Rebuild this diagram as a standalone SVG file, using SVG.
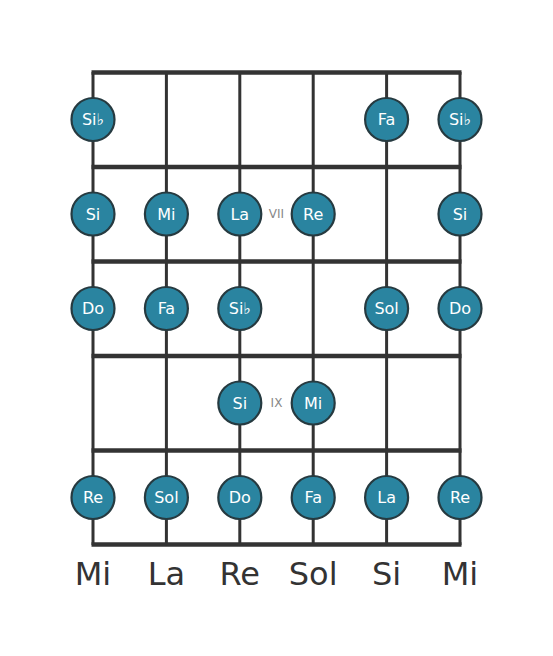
<svg xmlns="http://www.w3.org/2000/svg" width="553" height="656" viewBox="0 0 553 656">
<style>
.fret{stroke:#333;stroke-width:4.5;stroke-linecap:butt}
.str{stroke:#333;stroke-width:3}
.note circle{fill:#2a84a0;stroke:#263a40;stroke-width:2.2}
.note text{fill:#fff;font-family:"DejaVu Sans",sans-serif;font-size:16px;text-anchor:middle;dominant-baseline:central}
.fn{fill:#888;font-family:"DejaVu Sans",sans-serif;font-size:12px;text-anchor:middle;dominant-baseline:central}
.sn{fill:#333;font-family:"DejaVu Sans",sans-serif;font-size:32px;text-anchor:middle}
</style>
<rect width="553" height="656" fill="#fff"/>
<g id="connectors">
<line class="str" x1="93" y1="72" x2="93" y2="545"/>
<line class="str" x1="166.4" y1="72" x2="166.4" y2="545"/>
<line class="str" x1="239.8" y1="72" x2="239.8" y2="545"/>
<line class="str" x1="313.2" y1="72" x2="313.2" y2="545"/>
<line class="str" x1="386.6" y1="72" x2="386.6" y2="545"/>
<line class="str" x1="460" y1="72" x2="460" y2="545"/>
<line class="fret" x1="91.5" y1="72.5" x2="461.5" y2="72.5"/>
<line class="fret" x1="91.5" y1="167" x2="461.5" y2="167"/>
<line class="fret" x1="91.5" y1="261.5" x2="461.5" y2="261.5"/>
<line class="fret" x1="91.5" y1="356" x2="461.5" y2="356"/>
<line class="fret" x1="91.5" y1="450.5" x2="461.5" y2="450.5"/>
<line class="fret" x1="91.5" y1="544.5" x2="461.5" y2="544.5"/>
</g>
<g id="fret-labels">
<text class="fn" x="276.5" y="214">VII</text>
<text class="fn" x="276.5" y="403">IX</text>
</g>
<g id="n1" class="note"><circle cx="93" cy="119.5" r="21.5"/><text x="93" y="119.5">Si♭</text></g>
<g id="n2" class="note"><circle cx="386.6" cy="119.5" r="21.5"/><text x="386.6" y="119.5">Fa</text></g>
<g id="n3" class="note"><circle cx="460" cy="119.5" r="21.5"/><text x="460" y="119.5">Si♭</text></g>
<g id="n4" class="note"><circle cx="93" cy="214" r="21.5"/><text x="93" y="214">Si</text></g>
<g id="n5" class="note"><circle cx="166.4" cy="214" r="21.5"/><text x="166.4" y="214">Mi</text></g>
<g id="n6" class="note"><circle cx="239.8" cy="214" r="21.5"/><text x="239.8" y="214">La</text></g>
<g id="n7" class="note"><circle cx="313.2" cy="214" r="21.5"/><text x="313.2" y="214">Re</text></g>
<g id="n8" class="note"><circle cx="460" cy="214" r="21.5"/><text x="460" y="214">Si</text></g>
<g id="n9" class="note"><circle cx="93" cy="308.5" r="21.5"/><text x="93" y="308.5">Do</text></g>
<g id="n10" class="note"><circle cx="166.4" cy="308.5" r="21.5"/><text x="166.4" y="308.5">Fa</text></g>
<g id="n11" class="note"><circle cx="239.8" cy="308.5" r="21.5"/><text x="239.8" y="308.5">Si♭</text></g>
<g id="n12" class="note"><circle cx="386.6" cy="308.5" r="21.5"/><text x="386.6" y="308.5">Sol</text></g>
<g id="n13" class="note"><circle cx="460" cy="308.5" r="21.5"/><text x="460" y="308.5">Do</text></g>
<g id="n14" class="note"><circle cx="239.8" cy="403" r="21.5"/><text x="239.8" y="403">Si</text></g>
<g id="n15" class="note"><circle cx="313.2" cy="403" r="21.5"/><text x="313.2" y="403">Mi</text></g>
<g id="n16" class="note"><circle cx="93" cy="497.5" r="21.5"/><text x="93" y="497.5">Re</text></g>
<g id="n17" class="note"><circle cx="166.4" cy="497.5" r="21.5"/><text x="166.4" y="497.5">Sol</text></g>
<g id="n18" class="note"><circle cx="239.8" cy="497.5" r="21.5"/><text x="239.8" y="497.5">Do</text></g>
<g id="n19" class="note"><circle cx="313.2" cy="497.5" r="21.5"/><text x="313.2" y="497.5">Fa</text></g>
<g id="n20" class="note"><circle cx="386.6" cy="497.5" r="21.5"/><text x="386.6" y="497.5">La</text></g>
<g id="n21" class="note"><circle cx="460" cy="497.5" r="21.5"/><text x="460" y="497.5">Re</text></g>
<g id="string-names">
<text class="sn" x="93" y="585">Mi</text>
<text class="sn" x="166.4" y="585">La</text>
<text class="sn" x="239.8" y="585">Re</text>
<text class="sn" x="313.2" y="585">Sol</text>
<text class="sn" x="386.6" y="585">Si</text>
<text class="sn" x="460" y="585">Mi</text>
</g>
</svg>
